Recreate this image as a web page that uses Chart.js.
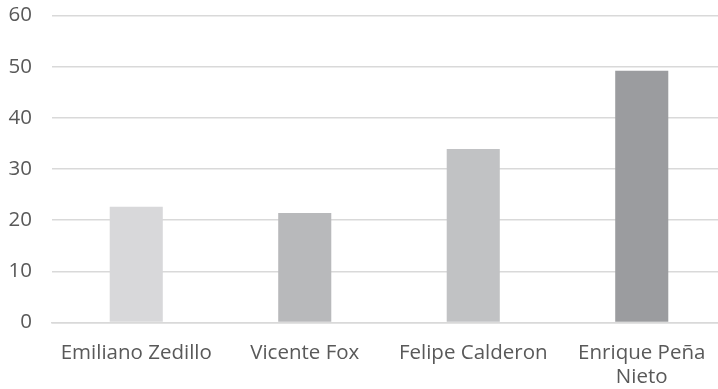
<!DOCTYPE html>
<html>
<head>
<meta charset="utf-8">
<script src="https://cdn.jsdelivr.net/npm/chart.js@4/dist/chart.umd.min.js"></script>
<style>
  html, body { margin: 0; padding: 0; background: #fff; overflow: hidden; }
  #wrap { position: relative; width: 726px; height: 389px; }
</style>
</head>
<body>
<div id="wrap"><canvas id="chart"></canvas></div>
<script>
// ── Data ─────────────────────────────────────────────
const presidents = ['Emiliano Zedillo', 'Vicente Fox', 'Felipe Calderon', ['Enrique Peña', 'Nieto']];
const values = [22.6, 21.4, 33.9, 49.2];
const barColors = ['#d8d8da', '#b8b9bb', '#c1c2c4', '#9b9c9f'];
const yTicks = [0, 10, 20, 30, 40, 50, 60];

const textColor = '#595959';
const gridColor = '#d9d9d9';
const font = { family: '"Open Sans", sans-serif', size: 20.5 };

new Chart(document.getElementById('chart'), {
    type: 'bar',
    data: {
        labels: presidents,
        datasets: [{
            data: values,
            backgroundColor: barColors,
            borderWidth: 0,
            categoryPercentage: 1,
            barPercentage: 0.315,
        }],
    },
    options: {
        responsive: true,
        maintainAspectRatio: false,
        animation: false,
        layout: { padding: { top: 15.5, left: 0, right: 0, bottom: 0 } },
        plugins: {
            legend: { display: false },
            tooltip: { enabled: false },
        },
        scales: {
            x: {
                grid: { display: false, drawTicks: false },
                border: { display: true, color: gridColor, width: 1.5 },
                ticks: {
                    color: textColor,
                    font: { ...font, lineHeight: 1.2 },
                    padding: 18,
                    maxRotation: 0,
                    autoSkip: false,
                },
                afterFit: (s) => { s.height = 66.5; s.paddingLeft = 0; s.paddingRight = 0; },
            },
            y: {
                min: 0,
                max: 60,
                afterBuildTicks: (s) => { s.ticks = yTicks.map(v => ({ value: v })); },
                grid: { color: gridColor, lineWidth: 1.5, drawTicks: false },
                border: { display: false },
                ticks: {
                    color: textColor,
                    font,
                    padding: 20,
                },
                afterFit: (s) => { s.width = 52; s.paddingTop = 0; s.paddingBottom = 0; },
            },
        },
    },
});
</script>
</body>
</html>
